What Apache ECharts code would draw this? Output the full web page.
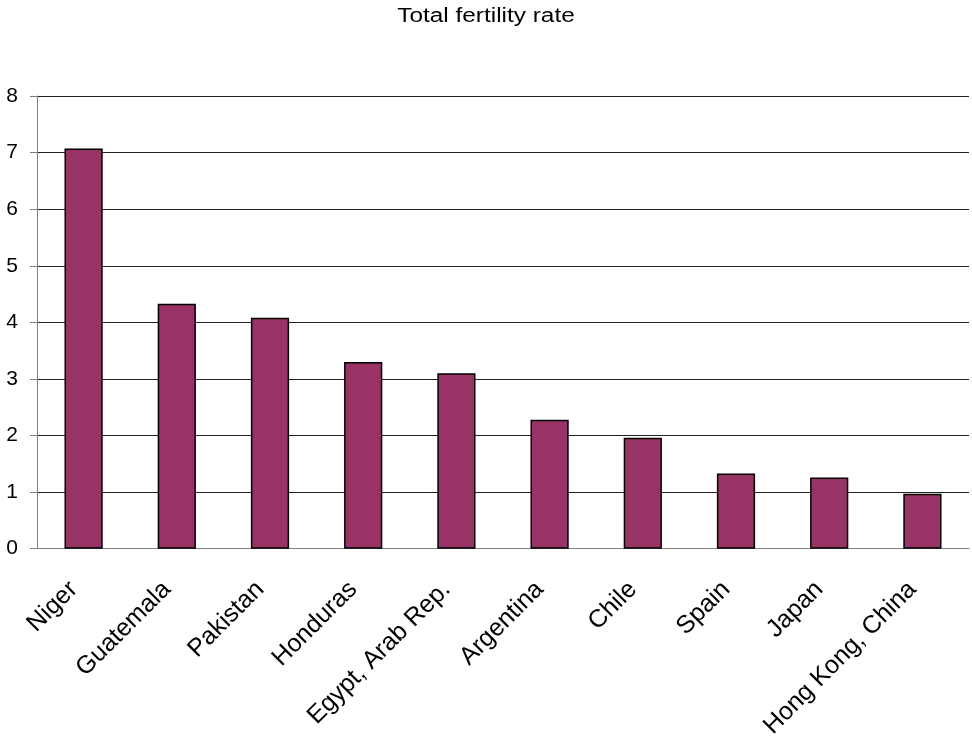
<!DOCTYPE html>
<html>
<head>
<meta charset="utf-8">
<script src="https://cdn.jsdelivr.net/npm/echarts@6/dist/echarts.min.js"></script>
<style>
  html, body { margin: 0; padding: 0; background: #fff; }
  #chart { width: 972px; height: 741px; }
</style>
</head>
<body>
<div id="chart"></div>
<script>
// Countries on the category axis
const countries = ['Niger', 'Guatemala', 'Pakistan', 'Honduras', 'Egypt, Arab Rep.',
  'Argentina', 'Chile', 'Spain', 'Japan', 'Hong Kong, China'];
// Births per woman
const fertilityRate = [7.07, 4.33, 4.08, 3.30, 3.10, 2.28, 1.96, 1.33, 1.26, 0.97];
const chartTitle = 'Total fertility rate';

const FONT = 'Liberation Sans';

const chart = echarts.init(document.getElementById('chart'));
chart.setOption({
  animation: false,
  backgroundColor: '#ffffff',
  // Title drawn as a graphic so it can be widened slightly
  graphic: [{
    type: 'text',
    left: 'center',
    top: 7,
    scaleX: 1.25,
    originX: 0,
    style: {
      text: chartTitle,
      fontFamily: FONT,
      fontSize: 19.5,
      fill: '#000'
    }
  }],
  grid: { left: 37, right: 3, top: 96, bottom: 191, containLabel: false },
  xAxis: {
    type: 'category',
    data: countries,
    axisLine: { lineStyle: { color: '#808080', width: 1 } },
    axisTick: { length: 7, lineStyle: { color: '#808080' } },
    axisLabel: {
      rotate: 45,
      interval: 0,
      margin: 27,
      padding: [0, 14, 0, 0],
      fontFamily: FONT,
      fontSize: 25,
      color: '#000'
    }
  },
  yAxis: {
    type: 'value',
    min: 0,
    max: 8,
    interval: 1,
    axisLine: { show: true, lineStyle: { color: '#808080', width: 1 } },
    axisTick: { show: true, length: 7, lineStyle: { color: '#808080' } },
    axisLabel: {
      margin: 19,
      padding: [4, 0, 0, 0],
      fontFamily: FONT,
      fontSize: 21,
      color: '#000'
    },
    splitLine: { lineStyle: { color: '#222', width: 1 } }
  },
  series: [{
    type: 'bar',
    data: fertilityRate,
    barWidth: '41%',
    itemStyle: { color: '#993366', borderColor: '#000', borderWidth: 1.5 }
  }]
});
</script>
</body>
</html>
